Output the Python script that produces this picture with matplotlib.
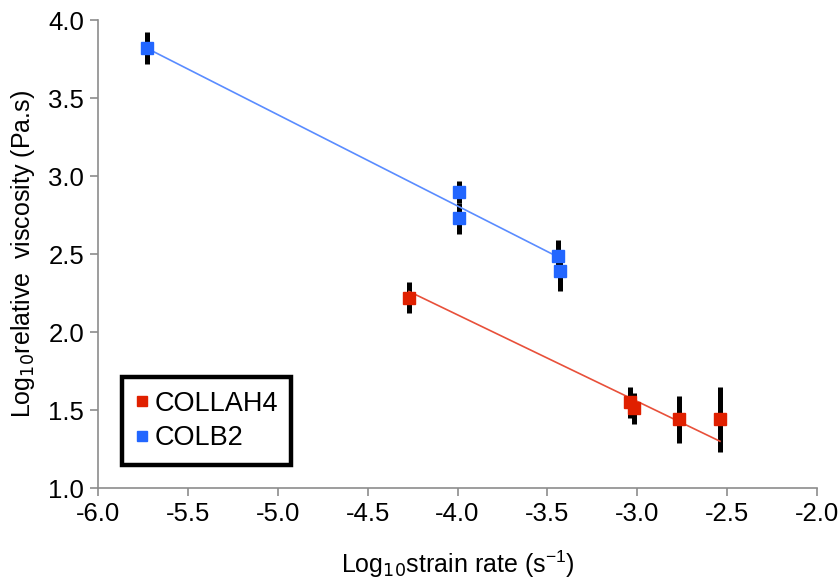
import matplotlib
matplotlib.use("Agg")
import matplotlib.pyplot as plt
import numpy as np

plt.rcParams['font.family'] = ['Liberation Sans', 'DejaVu Sans']
plt.rcParams['mathtext.fontset'] = 'custom'
plt.rcParams['mathtext.rm'] = 'Liberation Sans'
plt.rcParams['mathtext.it'] = 'Liberation Sans'
plt.rcParams['mathtext.default'] = 'regular'

# Data
collah4_x = [-4.27, -3.04, -3.02, -2.77, -2.54]
collah4_y = [2.22, 1.55, 1.51, 1.44, 1.44]
collah4_err = [0.10, 0.10, 0.10, 0.15, 0.21]
collah4_fit = (-0.555, -0.11)  # slope, intercept

colb2_x = [-5.73, -3.99, -3.99, -3.44, -3.43]
colb2_y = [3.82, 2.90, 2.73, 2.49, 2.39]
colb2_err = [0.10, 0.07, 0.10, 0.10, 0.13]
colb2_fit = (-0.585, 0.468)

x_ticks = [-6.0, -5.5, -5.0, -4.5, -4.0, -3.5, -3.0, -2.5, -2.0]
y_ticks = [1.0, 1.5, 2.0, 2.5, 3.0, 3.5, 4.0]

red = '#E02000'
blue = '#2266FF'
red_line = '#E8503A'
blue_line = '#5A8CFF'

fig = plt.figure(figsize=(8.38, 5.80), dpi=100)
ax = fig.add_axes([0.117, 0.1586, 0.858, 0.8069])

for xs, ys, errs, fit, mc, lc, lab in [
    (collah4_x, collah4_y, collah4_err, collah4_fit, red, red_line, 'COLLAH4'),
    (colb2_x, colb2_y, colb2_err, colb2_fit, blue, blue_line, 'COLB2'),
]:
    ax.errorbar(xs, ys, yerr=errs, fmt='none', ecolor='black', elinewidth=3.6,
                capsize=0, zorder=2)
    fx = np.array([min(xs), max(xs)])
    ax.plot(fx, fit[0] * fx + fit[1], color=lc, lw=1.2, zorder=3)
    ax.plot(xs, ys, ls='none', marker='s', ms=9, mfc=mc, mec=mc, zorder=4,
            label=lab)

ax.set_xlim(-6.0, -2.0)
ax.set_ylim(1.0, 4.0)
ax.set_xticks(x_ticks)
ax.set_yticks(y_ticks)
ax.set_xticklabels([f"{v:.1f}" for v in x_ticks])
ax.set_yticklabels([f"{v:.1f}" for v in y_ticks])
for s in ['top', 'right']:
    ax.spines[s].set_visible(False)
for s in ['left', 'bottom']:
    ax.spines[s].set_color('#8c8c8c')
    ax.spines[s].set_linewidth(1.2)
ax.tick_params(axis='both', direction='out', length=6, width=1.2,
               color='#8c8c8c', labelsize=18.5, labelcolor='black', pad=4)

ax.set_xlabel(r'Log$_{\mathsf{10}}$strain rate (s$^{-1}$)', fontsize=18, labelpad=16)
ax.set_ylabel(r'Log$_{\mathsf{10}}$relative  viscosity (Pa.s)', fontsize=18, labelpad=8)

leg = ax.legend(loc='lower left', bbox_to_anchor=(0.033, 0.05), fontsize=19.5,
                frameon=True, fancybox=False, handlelength=0.5,
                handletextpad=0.2, markerscale=0.75, borderpad=0.5,
                labelspacing=0.3, borderaxespad=0, framealpha=1)
leg.get_frame().set_edgecolor('black')
leg.get_frame().set_linewidth(3.2)

fig.savefig('out.png', dpi=100)
